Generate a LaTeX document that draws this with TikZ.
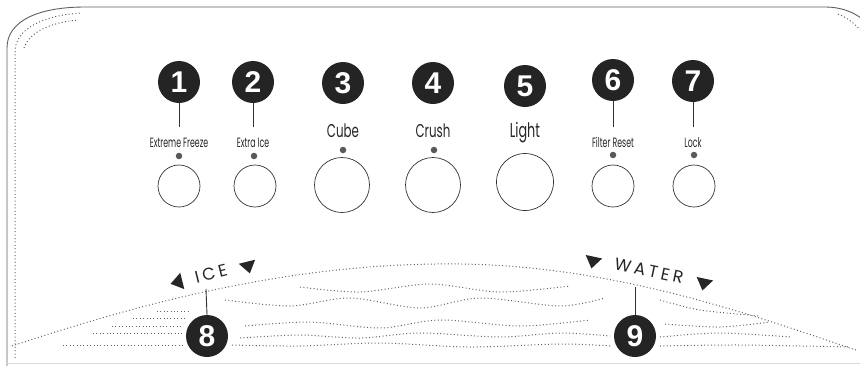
\documentclass[tikz,border=0pt]{standalone}
\usepackage{fontspec}
\setmainfont{Liberation Sans}
\newfontfamily\panelfont[FakeStretch=0.64]{Poppins}
\newfontfamily\smallpanelfont[FakeStretch=0.58]{Poppins}
\newfontfamily\spoutfont[LetterSpace=20]{Poppins}
\usetikzlibrary{positioning,calc,shapes.geometric}
\definecolor{inkgray}{RGB}{50,50,50}
\definecolor{rimgray}{RGB}{95,95,95}
\definecolor{grain}{RGB}{100,100,100}
\tikzset{
  badge/.style={circle, fill=black!86, text=white, font=\bfseries\fontsize{30}{30}\selectfont, minimum size=42pt, inner sep=0pt},
  leader/.style={draw=inkgray, line width=0.9pt},
  tagleader/.style={leader, shorten >=10pt},
  tag/.style={anchor=base, inner sep=0pt, text=black!85, font=\smallpanelfont\fontsize{13.5}{14}\selectfont},
  bigtag/.style={tag, font=\panelfont\fontsize{18.5}{20}\selectfont},
  led/.style={circle, fill=black!65, minimum size=6.5pt, inner sep=0pt},
  knob/.style={circle, draw=inkgray, line width=0.7pt, minimum size=42pt, inner sep=0pt},
  bigknob/.style={knob, minimum size=55pt},
  spout/.style={inner sep=0pt, text=black!85, font=\spoutfont\fontsize{17}{18}\selectfont},
  pointer/.style={isosceles triangle, fill=black!85, inner sep=0pt, minimum height=12pt, isosceles triangle apex angle=70},
  rim/.style={draw=rimgray, line width=0.9pt},
  dots/.style={draw=grain, line width=1pt, dash pattern=on 1pt off 2.4pt}
}
\begin{document}
\begin{tikzpicture}[x=1pt, y=-1pt]
  \useasboundingbox (0,0) rectangle (860,365);
  \clip (0,0) rectangle (860,365);

  % panel outline
  \draw[rim] (7,366) -- (7,48) .. controls (7,20) and (40,7) .. (85,7) -- (825,7) .. controls (845,7) and (860,15) .. (870,26);
  \draw[draw=black!15, line width=1pt] (7,363) -- (860,363);
  \draw[dots] (15,358) -- (15,52) .. controls (15,28) and (45,15) .. (82,13);
  \draw[dots] (24,48) .. controls (30,30) and (55,22) .. (78,20);
  \draw[dots] (838,14) .. controls (848,18) and (855,24) .. (860,30);

  % control buttons
  \node[badge] (b1) at (179,82) {1};
  \node[badge] (b2) at (253,82) {2};
  \node[badge] (b3) at (343,83) {3};
  \node[badge] (b4) at (433,83) {4};
  \node[badge] (b5) at (525,86) {5};
  \node[badge] (b6) at (613,80) {6};
  \node[badge] (b7) at (693,81) {7};

  \node[tag] (l1) at (179,147) {Extreme Freeze};
  \node[tag] (l2) at (253,147) {Extra Ice};
  \node[bigtag] (l3) at (343,137) {Cube};
  \node[bigtag] (l4) at (433,137) {Crush};
  \node[bigtag, font=\panelfont\fontsize{20}{22}\selectfont] (l5) at (525,137) {Light};
  \node[tag] (l6) at (613,147) {Filter Reset};
  \node[tag] (l7) at (693,147) {Lock};

  \draw[tagleader] (b1) -- (l1);
  \draw[tagleader] (b2) -- (l2);
  \draw[tagleader] (b6) -- (l6);
  \draw[tagleader] (b7) -- (l7);

  \node[led] (d1) at (179,156) {};
  \node[led] (d2) at (254,156) {};
  \node[led] (d3) at (343,150) {};
  \node[led] (d4) at (434,150) {};
  \node[led] (d6) at (613,155) {};
  \node[led] (d7) at (694,155) {};

  \node[knob] (k1) at (179,186) {};
  \node[knob] (k2) at (255,186) {};
  \node[bigknob] (k3) at (342,185) {};
  \node[bigknob] (k4) at (433,185) {};
  \node[bigknob, minimum size=57pt] (k5) at (525,182) {};
  \node[knob] (k6) at (613,186) {};
  \node[knob] (k7) at (694,186) {};

  % dispenser well
  \draw[dots] (12,346) .. controls (150,300) and (300,262) .. (460,264) .. controls (620,266) and (760,318) .. (856,350);
  \draw[dots] (63,345) -- (185,345);
  \draw[dots] (93,333) -- (182,333);
  \draw[dots] (112,326) -- (182,326);
  \draw[dots] (133,318) -- (185,318);
  \draw[dots] (157,311) -- (190,311);
  \draw[dots] plot[smooth] coordinates {(232,345) (300,346) (380,343) (470,347) (560,344) (612,346)};
  \draw[dots] plot[smooth] coordinates {(660,346) (740,345) (850,347)};
  \draw[dots] plot[smooth] coordinates {(240,338) (300,335) (360,338) (420,333) (500,337) (560,333) (610,336)};
  \draw[dots] plot[smooth] coordinates {(660,337) (720,333) (790,337)};
  \draw[dots] plot[smooth] coordinates {(245,326) (310,322) (380,328) (440,320) (520,326) (590,320)};
  \draw[dots] plot[smooth] coordinates {(665,324) (720,327) (770,322)};
  \draw[dots] plot[smooth] coordinates {(225,300) (290,306) (350,298) (420,308) (480,298) (560,306) (605,298)};
  \draw[dots] plot[smooth] coordinates {(300,287) (360,292) (430,284) (500,292) (570,286)};
  \draw[dots] plot[smooth] coordinates {(660,300) (700,310) (760,316)};

  \node[spout, rotate=14] (ice) at (211,274) {ICE};
  \node[pointer, shape border rotate=180, rotate=14] (t1) at (178,282) {};
  \node[pointer, shape border rotate=270, rotate=14] (t2) at (248,266) {};
  \node[spout, rotate=-12] (water) at (649,271) {WATER};
  \node[pointer, shape border rotate=270, rotate=-12] (t3) at (593,261) {};
  \node[pointer, shape border rotate=270, rotate=-12] (t4) at (704,283) {};

  \node[badge] (b8) at (207,336) {8};
  \node[badge] (b9) at (635,336) {9};
  \coordinate (icemark) at (206,289);
  \coordinate (watermark) at (635,287);
  \draw[leader] (icemark) -- (b8.north);
  \draw[leader] (watermark) -- (b9.north);
\end{tikzpicture}
\end{document}
